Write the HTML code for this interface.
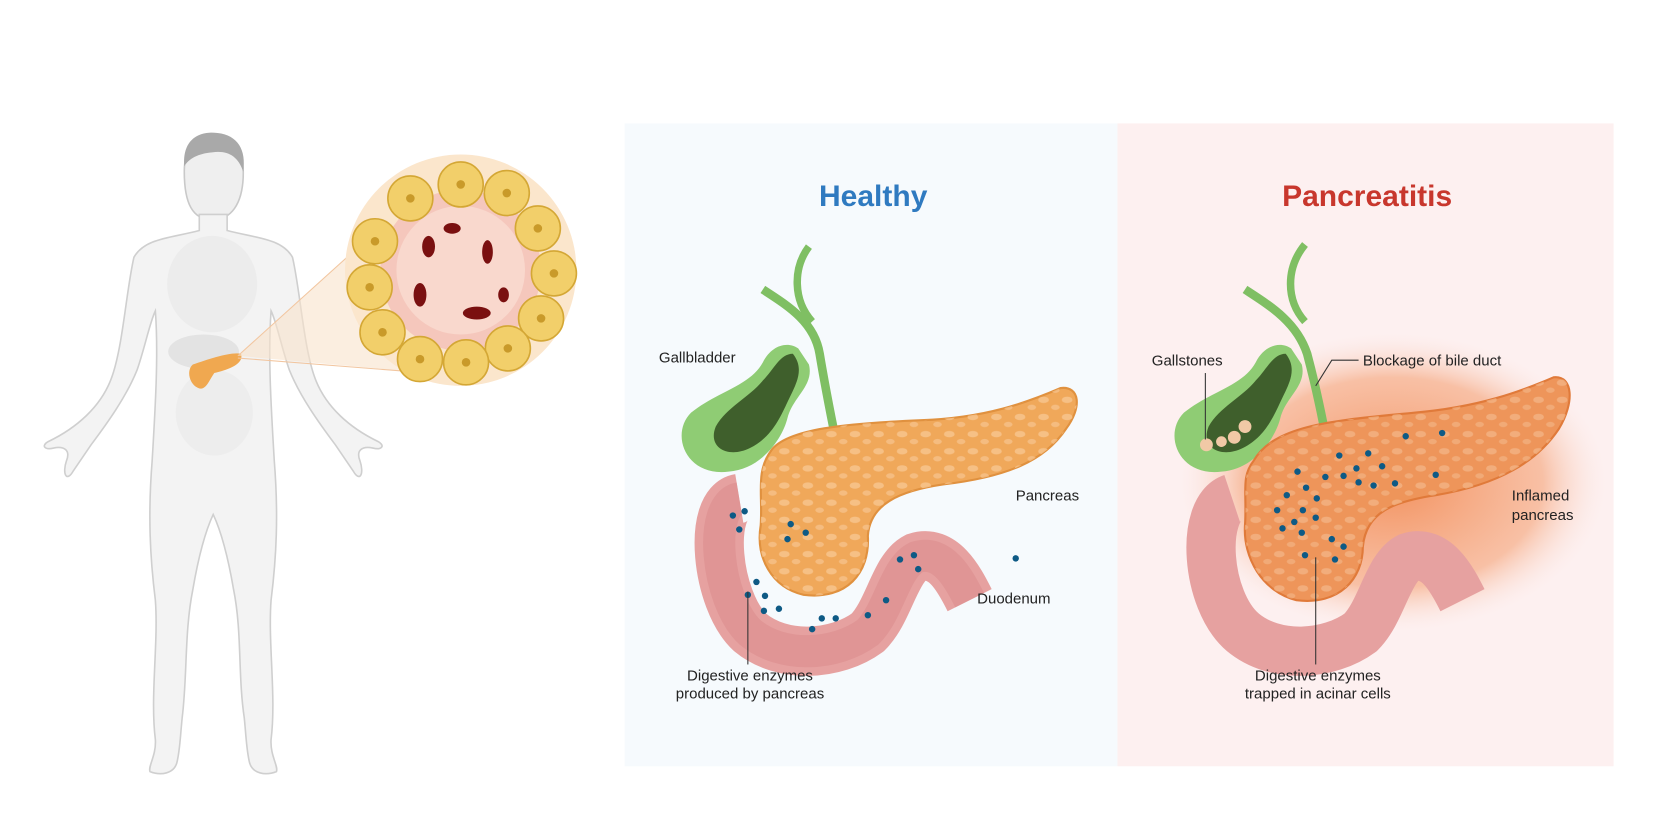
<!DOCTYPE html>
<html><head><meta charset="utf-8"><style>
html,body{margin:0;padding:0;background:#fff;}
svg{display:block;}
text{font-family:"Liberation Sans",sans-serif;}
</style></head><body>
<svg width="1680" height="835" viewBox="0 0 1568 779" xmlns="http://www.w3.org/2000/svg">
<defs>
<radialGradient id="glow" cx="50%" cy="50%" r="50%">
<stop offset="0" stop-color="#f07a3a" stop-opacity="0.8"/>
<stop offset="0.7" stop-color="#f3905a" stop-opacity="0.5"/>
<stop offset="1" stop-color="#fbe3dc" stop-opacity="0"/>
</radialGradient>
<pattern id="lumps" width="22" height="16" patternUnits="userSpaceOnUse">
<ellipse cx="6" cy="5" rx="5" ry="3" fill="#f7c590" opacity="0.8"/>
<ellipse cx="17" cy="12" rx="4" ry="2.5" fill="#f7c590" opacity="0.7"/>
</pattern>
<pattern id="lumps2" width="22" height="16" patternUnits="userSpaceOnUse">
<ellipse cx="6" cy="5" rx="5" ry="3" fill="#f4b88a" opacity="0.7"/>
<ellipse cx="17" cy="12" rx="4" ry="2.5" fill="#f4b88a" opacity="0.6"/>
</pattern>
</defs>
<rect width="1568" height="779" fill="#fff"/>

<!-- human figure -->
<g>
<path d="M198,205 C180,205 172,190 172,160 C172,135 185,128 200,128 C218,128 228,140 227,165 C226,190 216,205 198,205 Z" fill="#efefef" stroke="#c9c9c9" stroke-width="1.5"/>
<path d="M172,155 C170,128 188,122 203,124 C222,126 230,140 227,160 C222,145 212,140 198,142 C185,143 176,148 172,155 Z" fill="#a9a9a9"/>
<path d="M186,200 L186,215 C160,222 135,222 125,240 C118,270 115,320 105,350 C95,380 70,400 45,412 C38,416 42,420 50,418 C60,416 66,420 62,430 C58,442 62,450 68,440 L85,415 C100,395 118,370 128,345 C135,325 140,300 145,290 C148,330 145,380 142,430 C138,480 140,520 145,560 C148,600 140,650 145,690 C146,705 138,715 140,720 C150,724 162,722 165,712 C168,700 168,690 170,670 C175,630 172,590 180,550 C186,515 192,495 199,480 C206,495 212,515 218,550 C226,590 222,630 228,670 C230,690 230,700 233,712 C236,722 248,724 258,720 C260,715 252,705 253,690 C258,650 250,600 253,560 C258,520 260,480 256,430 C253,380 250,330 253,290 C258,300 263,325 270,345 C280,370 298,395 313,415 L330,440 C336,450 340,442 336,430 C332,420 338,416 348,418 C356,420 360,416 353,412 C328,400 303,380 293,350 C283,320 280,270 273,240 C263,222 238,222 212,215 L212,200 Z" fill="#f3f3f3" stroke="#cfcfcf" stroke-width="1.5"/>
<ellipse cx="198" cy="265" rx="42" ry="45" fill="#e8e8e8" opacity="0.6"/>
<ellipse cx="190" cy="328" rx="33" ry="16" fill="#dcdcdc" opacity="0.7"/>
<ellipse cx="200" cy="385" rx="36" ry="40" fill="#e9e9e9" opacity="0.6"/>
<path d="M180,340 C195,335 215,328 225,330 C228,340 212,345 200,348 C195,355 192,365 185,362 C176,358 174,345 180,340 Z" fill="#f0a850"/>
</g>

<!-- zoom cone -->
<path d="M222,332 L388,182 A108,108 0 0 1 400,348 Z" fill="#f8e3cc" opacity="0.6"/>
<line x1="222" y1="332" x2="388" y2="182" stroke="#f2c6a0" stroke-width="1"/>
<line x1="222" y1="334" x2="400" y2="348" stroke="#f2c6a0" stroke-width="1"/>

<!-- tissue lens -->
<g>
<circle cx="430" cy="252" r="108" fill="#fbe6cc"/>
<circle cx="430" cy="252" r="75" fill="#f5c7bc"/>
<circle cx="430" cy="252" r="60" fill="#f9d8cd"/>
<g fill="#f2cf6a" stroke="#d4a735" stroke-width="1.5">
<circle cx="383" cy="185" r="21"/><circle cx="430" cy="172" r="21"/><circle cx="473" cy="180" r="21"/>
<circle cx="502" cy="213" r="21"/><circle cx="517" cy="255" r="21"/><circle cx="505" cy="297" r="21"/>
<circle cx="474" cy="325" r="21"/><circle cx="435" cy="338" r="21"/><circle cx="392" cy="335" r="21"/>
<circle cx="357" cy="310" r="21"/><circle cx="345" cy="268" r="21"/><circle cx="350" cy="225" r="21"/>
</g>
<g fill="#c99a2a">
<circle cx="383" cy="185" r="4"/><circle cx="430" cy="172" r="4"/><circle cx="473" cy="180" r="4"/>
<circle cx="502" cy="213" r="4"/><circle cx="517" cy="255" r="4"/><circle cx="505" cy="297" r="4"/>
<circle cx="474" cy="325" r="4"/><circle cx="435" cy="338" r="4"/><circle cx="392" cy="335" r="4"/>
<circle cx="357" cy="310" r="4"/><circle cx="345" cy="268" r="4"/><circle cx="350" cy="225" r="4"/>
</g>
<g fill="#7a1010">
<ellipse cx="400" cy="230" rx="6" ry="10"/><ellipse cx="455" cy="235" rx="5" ry="11"/><ellipse cx="445" cy="292" rx="13" ry="6"/>
<ellipse cx="392" cy="275" rx="6" ry="11"/><ellipse cx="422" cy="213" rx="8" ry="5"/><ellipse cx="470" cy="275" rx="5" ry="7"/>
</g>
</g>

<!-- panels -->
<rect x="583" y="115" width="460" height="600" fill="#f6fafd"/>
<rect x="1043" y="115" width="463" height="600" fill="#fdf0f0"/>
<text x="815" y="192" text-anchor="middle" font-size="28" font-weight="bold" fill="#2f7ac0">Healthy</text>
<text x="1276" y="192" text-anchor="middle" font-size="28" font-weight="bold" fill="#c8372d">Pancreatitis</text>

<!-- healthy organs -->
<g>
<path d="M712,270 C735,285 760,300 765,330 C770,360 775,385 778,400" fill="none" stroke="#7fbf63" stroke-width="8"/>
<path d="M755,230 C740,250 740,280 758,300" fill="none" stroke="#7fbf63" stroke-width="7"/>
<path d="M690,465 C660,470 668,560 700,590 C730,615 780,612 810,590 C830,570 835,530 855,520 C880,512 895,540 905,560" fill="none" stroke="#e6a1a0" stroke-width="46"/>
<path d="M690,465 C660,470 668,560 700,590 C730,615 780,612 810,590 C830,570 835,530 855,520 C880,512 895,540 905,560" fill="none" stroke="#d98a8a" stroke-width="30" opacity="0.5"/>
<path d="M745,325 C735,318 720,322 712,338 C700,360 670,365 645,385 C625,405 640,445 680,440 C710,438 730,410 735,390 C740,370 760,360 755,340 Z" fill="#8fcc74"/>
<path d="M740,330 C728,330 722,345 712,355 C700,370 678,380 668,398 C660,418 680,428 700,418 C720,408 728,390 735,375 C742,360 752,345 740,330 Z" fill="#3f5f2c"/>
<path d="M720,420 C735,400 790,395 860,392 C920,390 960,375 990,362 C1008,360 1010,380 995,400 C975,430 940,445 880,452 C840,458 812,470 810,500 C812,535 790,560 750,555 C720,548 705,520 710,490 C712,460 705,440 720,420 Z" fill="#f0a85a" stroke="#e0913f" stroke-width="2"/>
<path d="M720,420 C735,400 790,395 860,392 C920,390 960,375 990,362 C1008,360 1010,380 995,400 C975,430 940,445 880,452 C840,458 812,470 810,500 C812,535 790,560 750,555 C720,548 705,520 710,490 C712,460 705,440 720,420 Z" fill="url(#lumps)"/>
<g fill="#0e5a85">
<circle cx="684" cy="481" r="3"/><circle cx="695" cy="477" r="3"/><circle cx="690" cy="494" r="3"/><circle cx="738" cy="489" r="3"/><circle cx="752" cy="497" r="3"/><circle cx="735" cy="503" r="3"/>
<circle cx="706" cy="543" r="3"/><circle cx="698" cy="555" r="3"/><circle cx="714" cy="556" r="3"/><circle cx="713" cy="570" r="3"/><circle cx="727" cy="568" r="3"/><circle cx="758" cy="587" r="3"/><circle cx="767" cy="577" r="3"/><circle cx="780" cy="577" r="3"/><circle cx="810" cy="574" r="3"/><circle cx="827" cy="560" r="3"/><circle cx="840" cy="522" r="3"/><circle cx="853" cy="518" r="3"/><circle cx="857" cy="531" r="3"/><circle cx="948" cy="521" r="3"/></g>
</g>
<g font-size="14" fill="#222">
<text x="615" y="338">Gallbladder</text>
<text x="948" y="467">Pancreas</text>
<text x="912" y="563">Duodenum</text>
<line x1="698" y1="552" x2="698" y2="620" stroke="#333" stroke-width="1"/>
<text x="700" y="635" text-anchor="middle">Digestive enzymes</text>
<text x="700" y="652" text-anchor="middle">produced by pancreas</text>
</g>

<!-- pancreatitis organs -->
<g>
<ellipse cx="1300" cy="450" rx="200" ry="140" fill="url(#glow)"/>
<path d="M1162,270 C1185,285 1210,300 1220,330 C1228,360 1232,380 1235,395" fill="none" stroke="#7fbf63" stroke-width="8"/>
<path d="M1218,228 C1200,250 1200,280 1218,300" fill="none" stroke="#7fbf63" stroke-width="7"/>
<path d="M1150,465 C1120,475 1125,560 1160,590 C1190,615 1240,612 1270,590 C1290,570 1295,530 1315,520 C1340,512 1355,540 1365,560" fill="none" stroke="#e6a1a0" stroke-width="46"/>
<path d="M1205,325 C1195,318 1180,322 1172,338 C1160,360 1130,365 1105,385 C1085,405 1100,445 1140,440 C1170,438 1190,410 1195,390 C1200,370 1220,360 1215,340 Z" fill="#8fcc74"/>
<path d="M1200,330 C1188,330 1182,345 1172,355 C1160,370 1138,380 1128,398 C1120,418 1140,428 1160,418 C1180,408 1188,390 1195,375 C1202,360 1212,345 1200,330 Z" fill="#3f5f2c"/>
<g fill="#f1c9a6"><circle cx="1126" cy="415" r="6"/><circle cx="1152" cy="408" r="6"/><circle cx="1162" cy="398" r="6"/><circle cx="1140" cy="412" r="5"/></g>
<path d="M1170,430 C1190,395 1250,392 1320,385 C1380,380 1420,365 1450,352 C1468,350 1470,375 1455,400 C1435,430 1400,452 1340,462 C1300,468 1275,478 1272,510 C1272,540 1250,565 1210,560 C1178,552 1160,520 1162,490 C1164,460 1158,445 1170,430 Z" fill="#ee955a" stroke="#e07a3a" stroke-width="2"/>
<path d="M1170,430 C1190,395 1250,392 1320,385 C1380,380 1420,365 1450,352 C1468,350 1470,375 1455,400 C1435,430 1400,452 1340,462 C1300,468 1275,478 1272,510 C1272,540 1250,565 1210,560 C1178,552 1160,520 1162,490 C1164,460 1158,445 1170,430 Z" fill="url(#lumps2)"/>
<g fill="#0e5a85">
<circle cx="1312" cy="407" r="3"/><circle cx="1346" cy="404" r="3"/><circle cx="1250" cy="425" r="3"/><circle cx="1277" cy="423" r="3"/><circle cx="1266" cy="437" r="3"/><circle cx="1290" cy="435" r="3"/><circle cx="1211" cy="440" r="3"/><circle cx="1237" cy="445" r="3"/><circle cx="1254" cy="444" r="3"/><circle cx="1268" cy="450" r="3"/><circle cx="1282" cy="453" r="3"/><circle cx="1302" cy="451" r="3"/><circle cx="1340" cy="443" r="3"/><circle cx="1219" cy="455" r="3"/><circle cx="1229" cy="465" r="3"/><circle cx="1201" cy="462" r="3"/><circle cx="1192" cy="476" r="3"/><circle cx="1216" cy="476" r="3"/><circle cx="1208" cy="487" r="3"/><circle cx="1228" cy="483" r="3"/><circle cx="1197" cy="493" r="3"/><circle cx="1215" cy="497" r="3"/><circle cx="1243" cy="503" r="3"/><circle cx="1254" cy="510" r="3"/><circle cx="1218" cy="518" r="3"/><circle cx="1246" cy="522" r="3"/></g>
</g>
<g font-size="14" fill="#222">
<text x="1075" y="341">Gallstones</text>
<line x1="1125" y1="348" x2="1125" y2="410" stroke="#333" stroke-width="1"/>
<text x="1272" y="341">Blockage of bile duct</text>
<polyline points="1268,336 1243,336 1228,360" fill="none" stroke="#333" stroke-width="1"/>
<text x="1411" y="467">Inflamed</text>
<text x="1411" y="485">pancreas</text>
<line x1="1228" y1="520" x2="1228" y2="620" stroke="#333" stroke-width="1"/>
<text x="1230" y="635" text-anchor="middle">Digestive enzymes</text>
<text x="1230" y="652" text-anchor="middle">trapped in acinar cells</text>
</g>
</svg>
</body></html>
